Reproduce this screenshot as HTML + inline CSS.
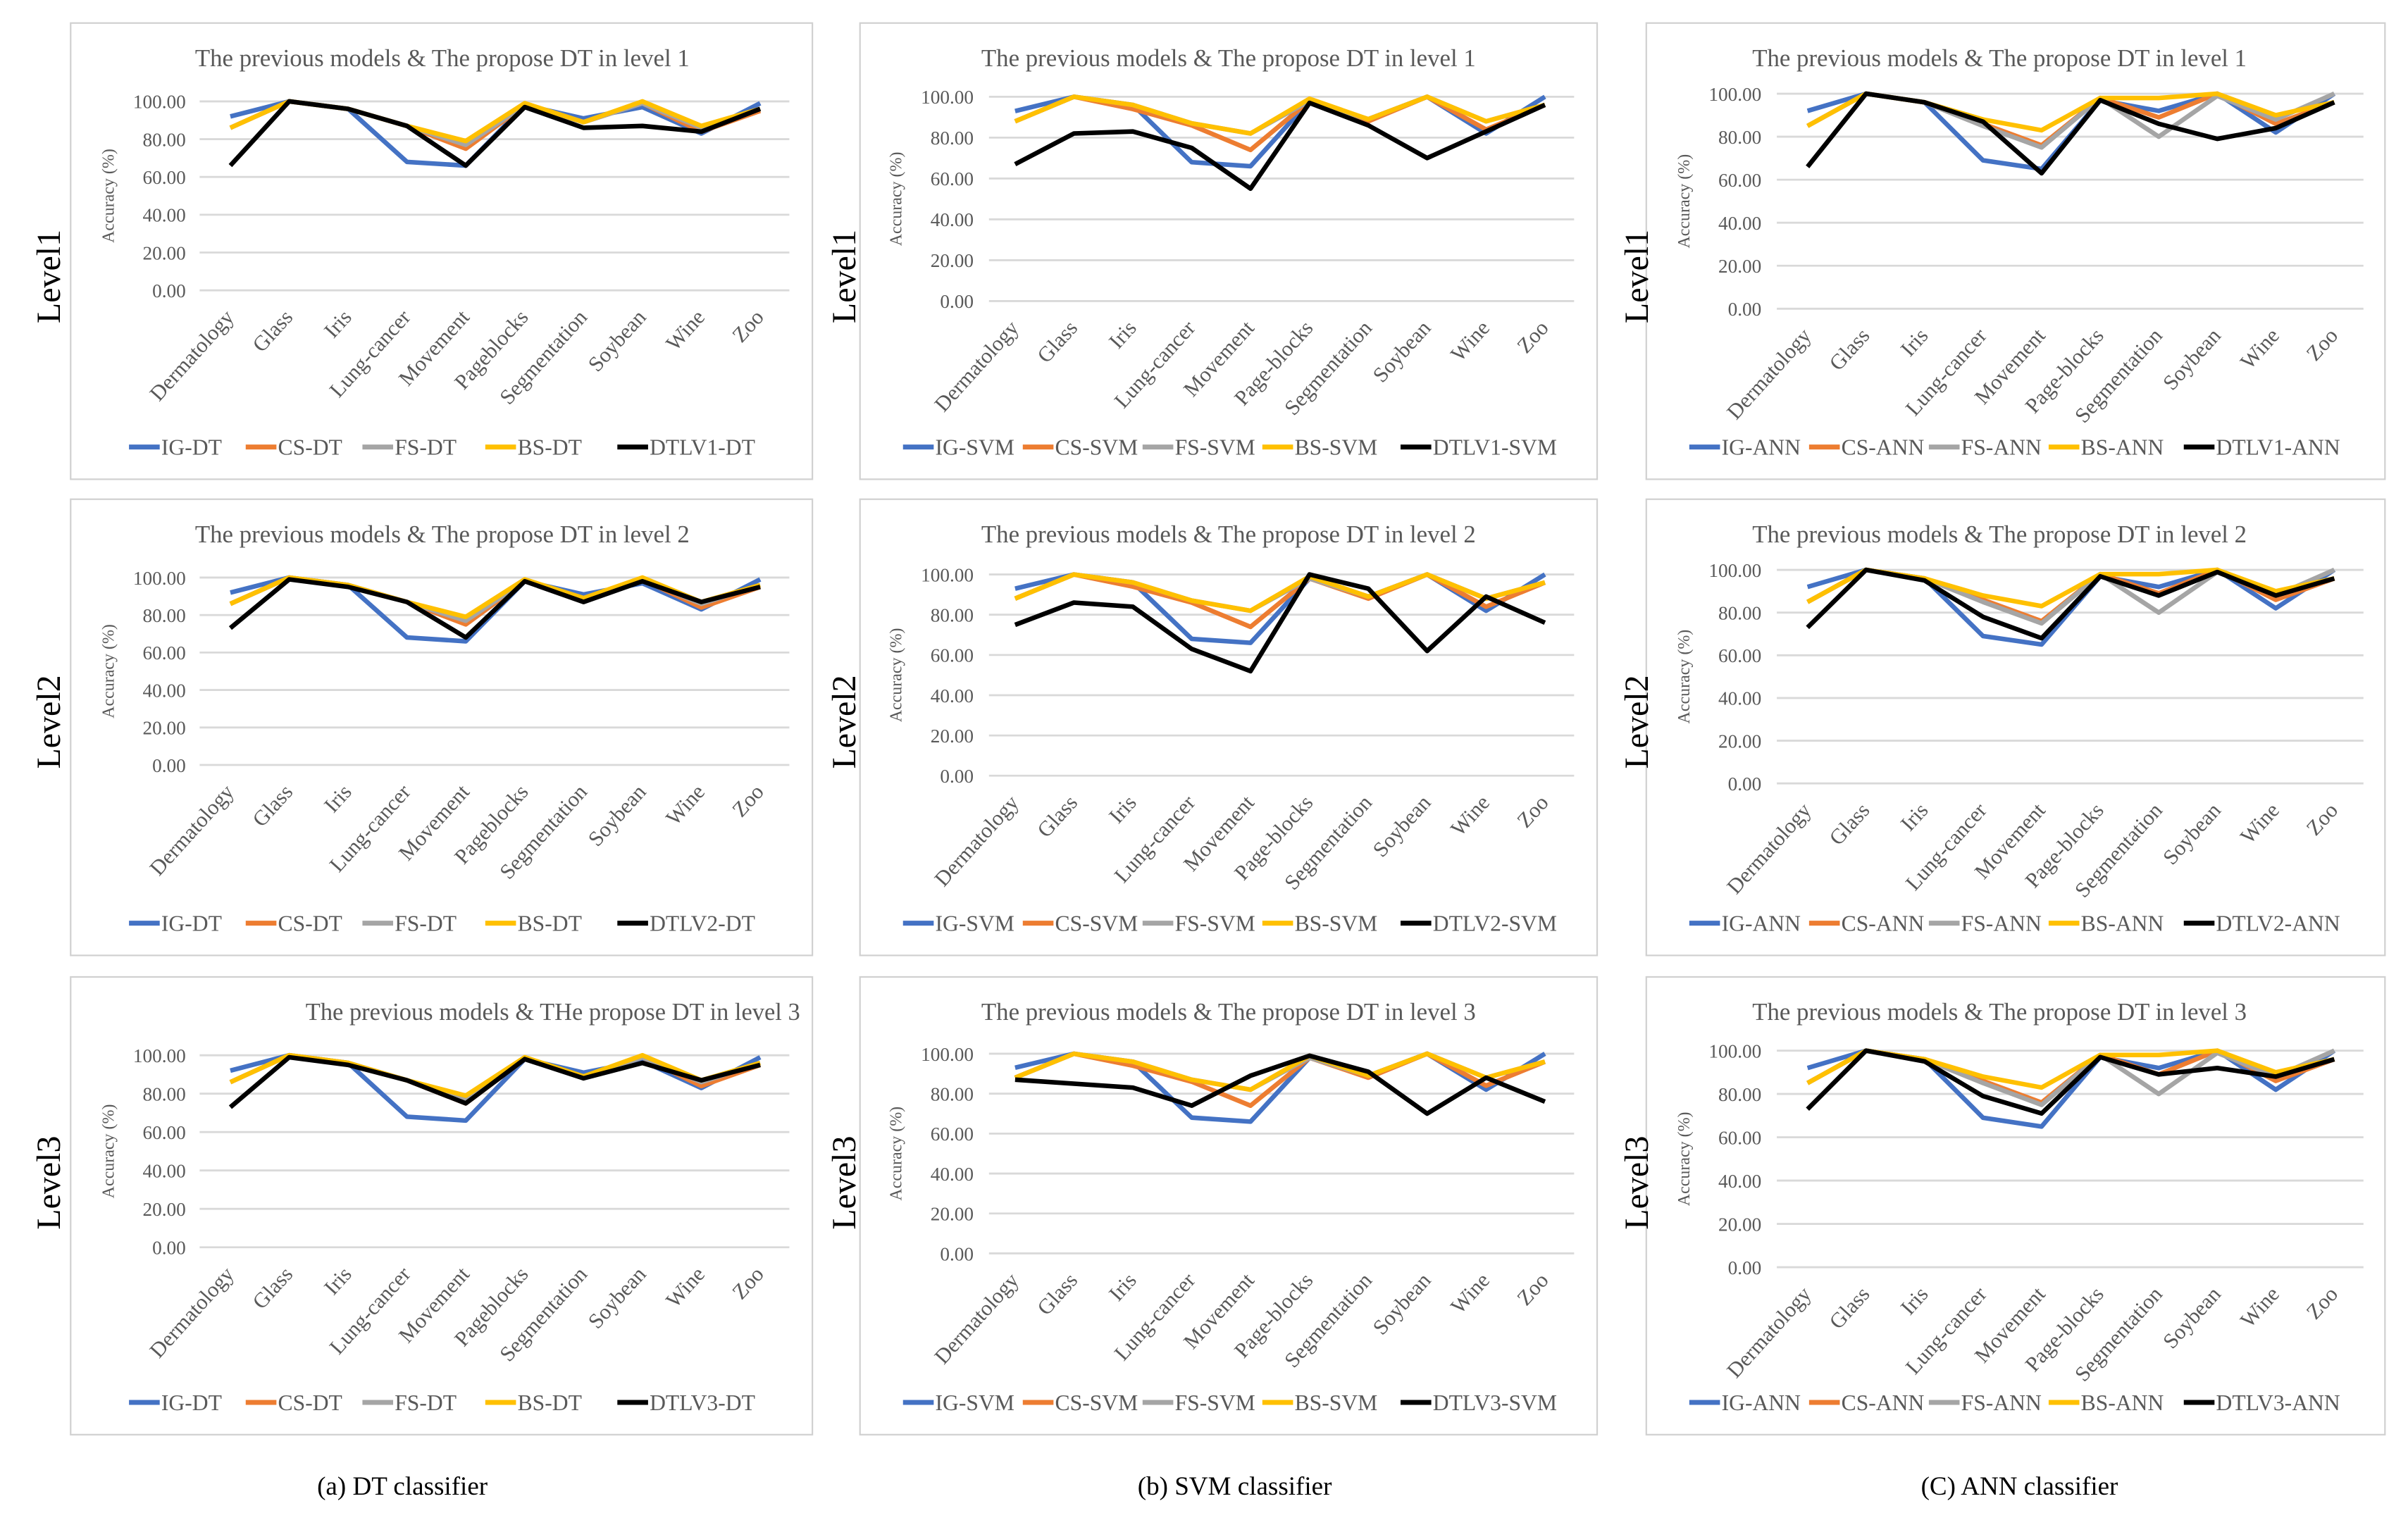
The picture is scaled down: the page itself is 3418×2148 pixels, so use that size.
<!DOCTYPE html>
<html><head><meta charset="utf-8">
<style>
html,body{margin:0;padding:0;background:#fff;}
svg{display:block;font-family:"Liberation Serif",serif;}
</style></head>
<body>
<svg id="fig" width="3418" height="2148" viewBox="0 0 1568 985" preserveAspectRatio="none" xmlns="http://www.w3.org/2000/svg"></svg>
<script>
const categoriesDT = ["Dermatology","Glass","Iris","Lung-cancer","Movement","Pageblocks","Segmentation","Soybean","Wine","Zoo"];
const categoriesOther = ["Dermatology","Glass","Iris","Lung-cancer","Movement","Page-blocks","Segmentation","Soybean","Wine","Zoo"];
const yTicks = [0,20,40,60,80,100];
const yTickLabels = ["0.00","20.00","40.00","60.00","80.00","100.00"];

const igDT = [92,100,96,68,66,98,91,97,83,99];
const csDT = [86,100,96,87,75,98,89,99,84,95];
const fsDT = [86,100,96,87,77,98,89,99,86,96];
const bsDT = [86,100,96,87,79,99,89,100,87,96];
const dtlv1DT = [66,100,96,87,66,97,86,87,84,96];
const dtlv2DT = [73,99,95,87,68,98,87,98,87,95];
const dtlv3DT = [73,99,95,87,75,98,88,96,87,95];

const igSVM = [93,100,96,68,66,98,89,100,82,100];
const csSVM = [88,100,94,86,74,98,88,100,84,96];
const fsSVM = [88,100,96,87,82,98,89,100,88,96];
const bsSVM = [88,100,96,87,82,99,89,100,88,96];
const dtlv1SVM = [67,82,83,75,55,97,86,70,83,96];
const dtlv2SVM = [75,86,84,63,52,100,93,62,89,76];
const dtlv3SVM = [87,85,83,74,89,99,91,70,88,76];

const igANN = [92,100,96,69,65,97,92,100,82,100];
const csANN = [85,100,96,86,76,98,89,100,86,96];
const fsANN = [85,100,96,85,75,98,80,99,88,100];
const bsANN = [85,100,96,88,83,98,98,100,90,96];
const dtlv1ANN = [66,100,96,87,63,97,86,79,84,96];
const dtlv2ANN = [73,100,95,78,68,97,88,99,88,96];
const dtlv3ANN = [73,100,95,79,71,97,89,92,88,96];

const seriesColors = ["#4472C4","#ED7D31","#A5A5A5","#FFC000","#000000"];
const NS = "http://www.w3.org/2000/svg";
const svg = document.getElementById("fig");

function mk(tag, attrs, parent){
  const e = document.createElementNS(NS, tag);
  for (const k in attrs) e.setAttribute(k, attrs[k]);
  (parent||svg).appendChild(e);
  return e;
}

const cols = [
  {bx:46,bw:483,gx0:130,gx1:514,xf:150,xl:495,lab:121,tcx:288,legX:[84,160,236,316,402],cats:categoriesDT,suf:"DT",
   data:[[igDT,csDT,fsDT,bsDT,dtlv1DT],[igDT,csDT,fsDT,bsDT,dtlv2DT],[igDT,csDT,fsDT,bsDT,dtlv3DT]]},
  {bx:560,bw:480,gx0:644,gx1:1025,xf:661,xl:1006,lab:634,tcx:800,legX:[588,666,744,822,912],cats:categoriesOther,suf:"SVM",
   data:[[igSVM,csSVM,fsSVM,bsSVM,dtlv1SVM],[igSVM,csSVM,fsSVM,bsSVM,dtlv2SVM],[igSVM,csSVM,fsSVM,bsSVM,dtlv3SVM]]},
  {bx:1072,bw:481,gx0:1157,gx1:1539,xf:1177,xl:1520,lab:1147,tcx:1302,legX:[1100,1178,1256,1334,1422],cats:categoriesOther,suf:"ANN",
   data:[[igANN,csANN,fsANN,bsANN,dtlv1ANN],[igANN,csANN,fsANN,bsANN,dtlv2ANN],[igANN,csANN,fsANN,bsANN,dtlv3ANN]]}
];
const rows = [
  {by:15,bh:297,leg:291,ty:38, y100:[66,63,61], y0:[189,196,201], lvl:"Level1", lvly:180},
  {by:325,bh:297,leg:601,ty:348, y100:[376,374,371], y0:[498,505,510], lvl:"Level2", lvly:470},
  {by:636,bh:298,leg:913,ty:659, y100:[687,686,684], y0:[812,816,825], lvl:"Level3", lvly:770}
];
const lvlX = [32,550,1066];
const prefixes = ["IG-","CS-","FS-","BS-"];

cols.forEach((c, ci) => {
  rows.forEach((r, ri) => {
    const g = mk("g", {});
    
    
    const box = mk("rect", {x:c.bx, y:r.by, width:c.bw, height:r.bh, fill:"#fff", stroke:"#d0d0d0", "stroke-width":1}, g);
    
    
    const y100 = r.y100[ci], y0 = r.y0[ci];
    const yScale = v => y0 + (y100 - y0) * v / 100;
    const xScale = i => c.xf + (c.xl - c.xf) * i / (c.cats.length - 1);
    let tstr = "The previous models & The propose DT in level " + (ri+1);
    let tcx = c.tcx;
    if (ci === 0 && ri === 2) { tstr = "The previous models & THe propose DT in level 3"; tcx = 360; }
    const title = mk("text", {x:tcx - 161, y:r.ty + 5, "font-size":16, fill:"#595959", textLength:322, lengthAdjust:"spacingAndGlyphs"}, g);
    title.textContent = tstr;
    
    
    yTicks.forEach((t, ti) => {
      const gl = mk("line", {x1:c.gx0, x2:c.gx1, y1:yScale(t), y2:yScale(t), stroke:"#d9d9d9", "stroke-width":1.3}, g);
      
      
      const tl = mk("text", {x:c.lab, y:yScale(t) + 4.5, "text-anchor":"end", "font-size":12.5, fill:"#595959"}, g);
      tl.textContent = yTickLabels[ti];
      
      
    });
    const ym = (y0 + y100) / 2;
    const yt = mk("text", {x:0, y:0, "text-anchor":"middle", "font-size":11, fill:"#595959", transform:"translate(" + (c.lab - 47) + "," + ym + ") rotate(-90)"}, g);
    yt.textContent = "Accuracy (%)";
    
    
    c.cats.forEach((cat, i) => {
      const x = xScale(i) + 3, y = y0 + 18;
      const cl = mk("text", {x:0, y:0, "text-anchor":"end", "font-size":14, fill:"#595959", transform:"translate(" + x + "," + y + ") rotate(-48)"}, g);
      cl.textContent = cat;
      
      
    });
    const names = prefixes.map(p => p + c.suf).concat(["DTLV" + (ri+1) + "-" + c.suf]);
    c.data[ri].forEach((vals, si) => {
      const pts = vals.map((v, i) => xScale(i).toFixed(1) + "," + yScale(v).toFixed(1)).join(" ");
      const pl = mk("polyline", {points:pts, fill:"none", stroke:seriesColors[si], "stroke-width":3, "stroke-linejoin":"round"}, g);
      
      
    });
    names.forEach((n, si) => {
      const lx = c.legX[si];
      const ll = mk("line", {x1:lx, x2:lx + 20, y1:r.leg, y2:r.leg, stroke:seriesColors[si], "stroke-width":3.2}, g);
      
      
      const lt = mk("text", {x:lx + 21, y:r.leg + 5, "font-size":14.5, fill:"#595959"}, g);
      lt.textContent = n;
      
      
    });
    const lv = mk("text", {x:0, y:0, "text-anchor":"middle", "font-size":22, fill:"#000", transform:"translate(" + (lvlX[ci] + 7) + "," + r.lvly + ") rotate(-90)"});
    lv.textContent = r.lvl;
    
    
  });
});
const caps = [["(a) DT classifier",262],["(b) SVM classifier",804],["(C) ANN classifier",1315]];
caps.forEach(cp => {
  const t = mk("text", {x:cp[1], y:973, "text-anchor":"middle", "font-size":17, fill:"#000"});
  t.textContent = cp[0];
  
  
});
</script>
</body></html>
